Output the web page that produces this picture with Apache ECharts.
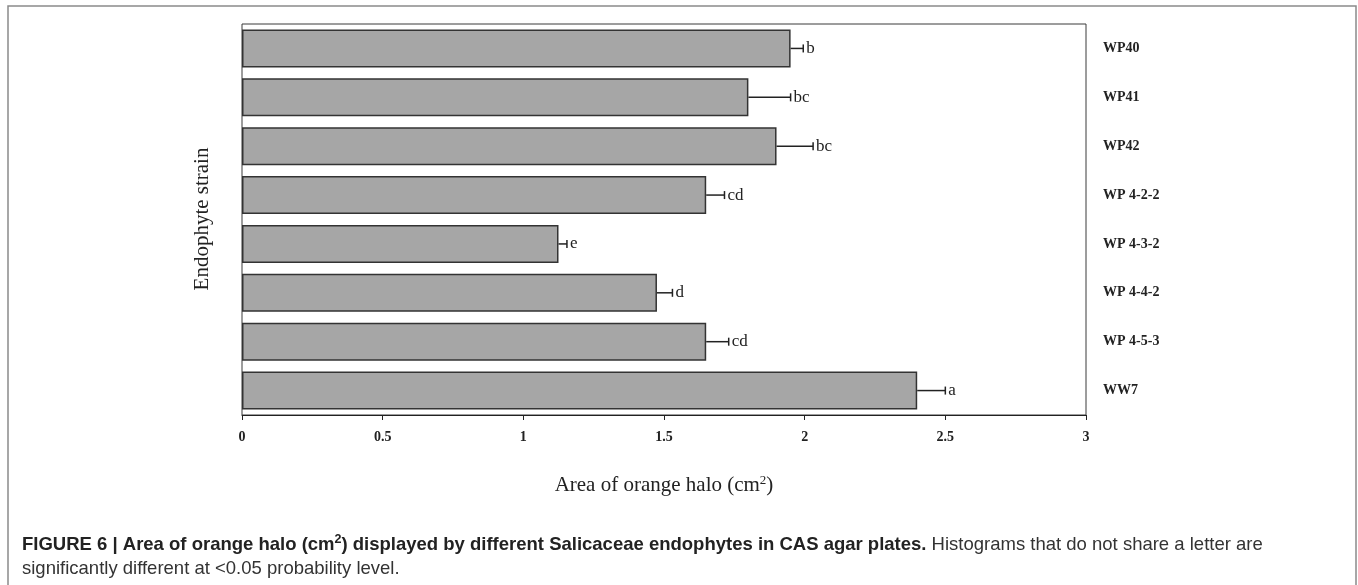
<!DOCTYPE html>
<html>
<head>
<meta charset="utf-8">
<script src="https://cdn.jsdelivr.net/npm/echarts@6/dist/echarts.min.js"></script>
<style>
  html, body { margin: 0; padding: 0; background: #fff; }
  #chart { width: 1358px; height: 585px; }
</style>
</head>
<body>
<div id="chart"></div>
<script>
// strains, top to bottom
const categories = ['WP40', 'WP41', 'WP42', 'WP 4-2-2', 'WP 4-3-2', 'WP 4-4-2', 'WP 4-5-3', 'WW7']
// mean halo area (cm2)
const means = [1.95, 1.80, 1.90, 1.65, 1.125, 1.475, 1.65, 2.40]
// error bar (one side)
const errors = [0.045, 0.15, 0.13, 0.065, 0.03, 0.055, 0.08, 0.10]
// significance letters
const letters = ['b', 'bc', 'bc', 'cd', 'e', 'd', 'cd', 'a']
const xTicks = [0, 0.5, 1, 1.5, 2, 2.5, 3]

const serif = '"Liberation Serif", "Times New Roman", serif'
const sans = '"Liberation Sans", Arial, sans-serif'

const chart = echarts.init(document.getElementById('chart'))

const errData = means.map((m, i) => [m, i, errors[i]])

const option = {
  animation: false,
  grid: {
    left: 242, right: 272, top: 24, bottom: 170,
    show: true, borderColor: '#3a3a3a', borderWidth: 1
  },
  xAxis: {
    type: 'value',
    min: 0, max: 3, interval: 0.5,
    axisLine: { show: true, lineStyle: { color: '#222', width: 1 } },
    axisTick: { show: true, length: 5, lineStyle: { color: '#222' } },
    splitLine: { show: false },
    axisLabel: {
      margin: 15,
      fontFamily: serif, fontWeight: 'bold', fontSize: 14, color: '#222',
      formatter: v => xTicks.includes(v) ? String(v) : ''
    },
    name: '{a|Area of orange halo (cm}{s|2}{a|)}',
    nameLocation: 'middle',
    nameGap: 59,
    nameTextStyle: {
      rich: {
        a: { fontFamily: serif, fontSize: 21, color: '#222' },
        s: { fontFamily: serif, fontSize: 13, color: '#222', verticalAlign: 'top', padding: [0, 0, 10, 0] }
      }
    }
  },
  yAxis: {
    type: 'category',
    data: categories,
    inverse: true,
    position: 'right',
    axisLine: { show: false },
    axisTick: { show: false },
    axisLabel: {
      margin: 17,
      fontFamily: serif, fontWeight: 'bold', fontSize: 14, color: '#222'
    }
  },
  graphic: [
    {
      type: 'rect',
      shape: { x: 8, y: 6, width: 1348, height: 600 },
      style: { fill: 'none', stroke: '#8a8a8a', lineWidth: 1.5 },
      silent: true
    },
    {
      type: 'text',
      x: 202, y: 219,
      rotation: Math.PI / 2,
      style: {
        text: 'Endophyte strain',
        fontFamily: serif, fontSize: 21, fill: '#222',
        align: 'center', verticalAlign: 'middle'
      }
    },
    {
      type: 'text',
      left: 22, top: 533,
      style: {
        text: '{b|FIGURE 6 | Area of orange halo (cm}{bs|2}{b|) displayed by different Salicaceae endophytes in CAS agar plates.}{n| Histograms that do not share a letter are}\n{n|significantly different at <0.05 probability level.}',
        rich: {
          b: { fontFamily: sans, fontSize: 18.5, fontWeight: 'bold', fill: '#222', lineHeight: 24 },
          bs: { fontFamily: sans, fontSize: 12.5, fontWeight: 'bold', fill: '#222', verticalAlign: 'top', lineHeight: 24, padding: [0, 0, 9, 0] },
          n: { fontFamily: sans, fontSize: 18.5, fill: '#333', lineHeight: 24 }
        }
      }
    }
  ],
  series: [
    {
      type: 'bar',
      data: means,
      barCategoryGap: '22%',
      itemStyle: { color: '#a6a6a6', borderColor: '#333', borderWidth: 1.5 }
    },
    {
      type: 'custom',
      data: errData,
      z: 5,
      renderItem: function (params, api) {
        const m = api.value(0)
        const idx = api.value(1)
        const e = api.value(2)
        const start = api.coord([m, idx])
        const end = api.coord([m + e, idx])
        const cap = 4
        return {
          type: 'group',
          children: [
            {
              type: 'line',
              shape: { x1: start[0], y1: start[1], x2: end[0], y2: end[1] },
              style: { stroke: '#222', lineWidth: 1.5 }
            },
            {
              type: 'line',
              shape: { x1: end[0], y1: end[1] - cap, x2: end[0], y2: end[1] + cap },
              style: { stroke: '#222', lineWidth: 1.5 }
            },
            {
              type: 'text',
              x: end[0] + 3, y: end[1],
              style: {
                text: letters[idx],
                fontFamily: serif, fontSize: 17, fill: '#222',
                align: 'left', verticalAlign: 'middle'
              }
            }
          ]
        }
      }
    }
  ]
}

chart.setOption(option, true)
</script>
</body>
</html>
